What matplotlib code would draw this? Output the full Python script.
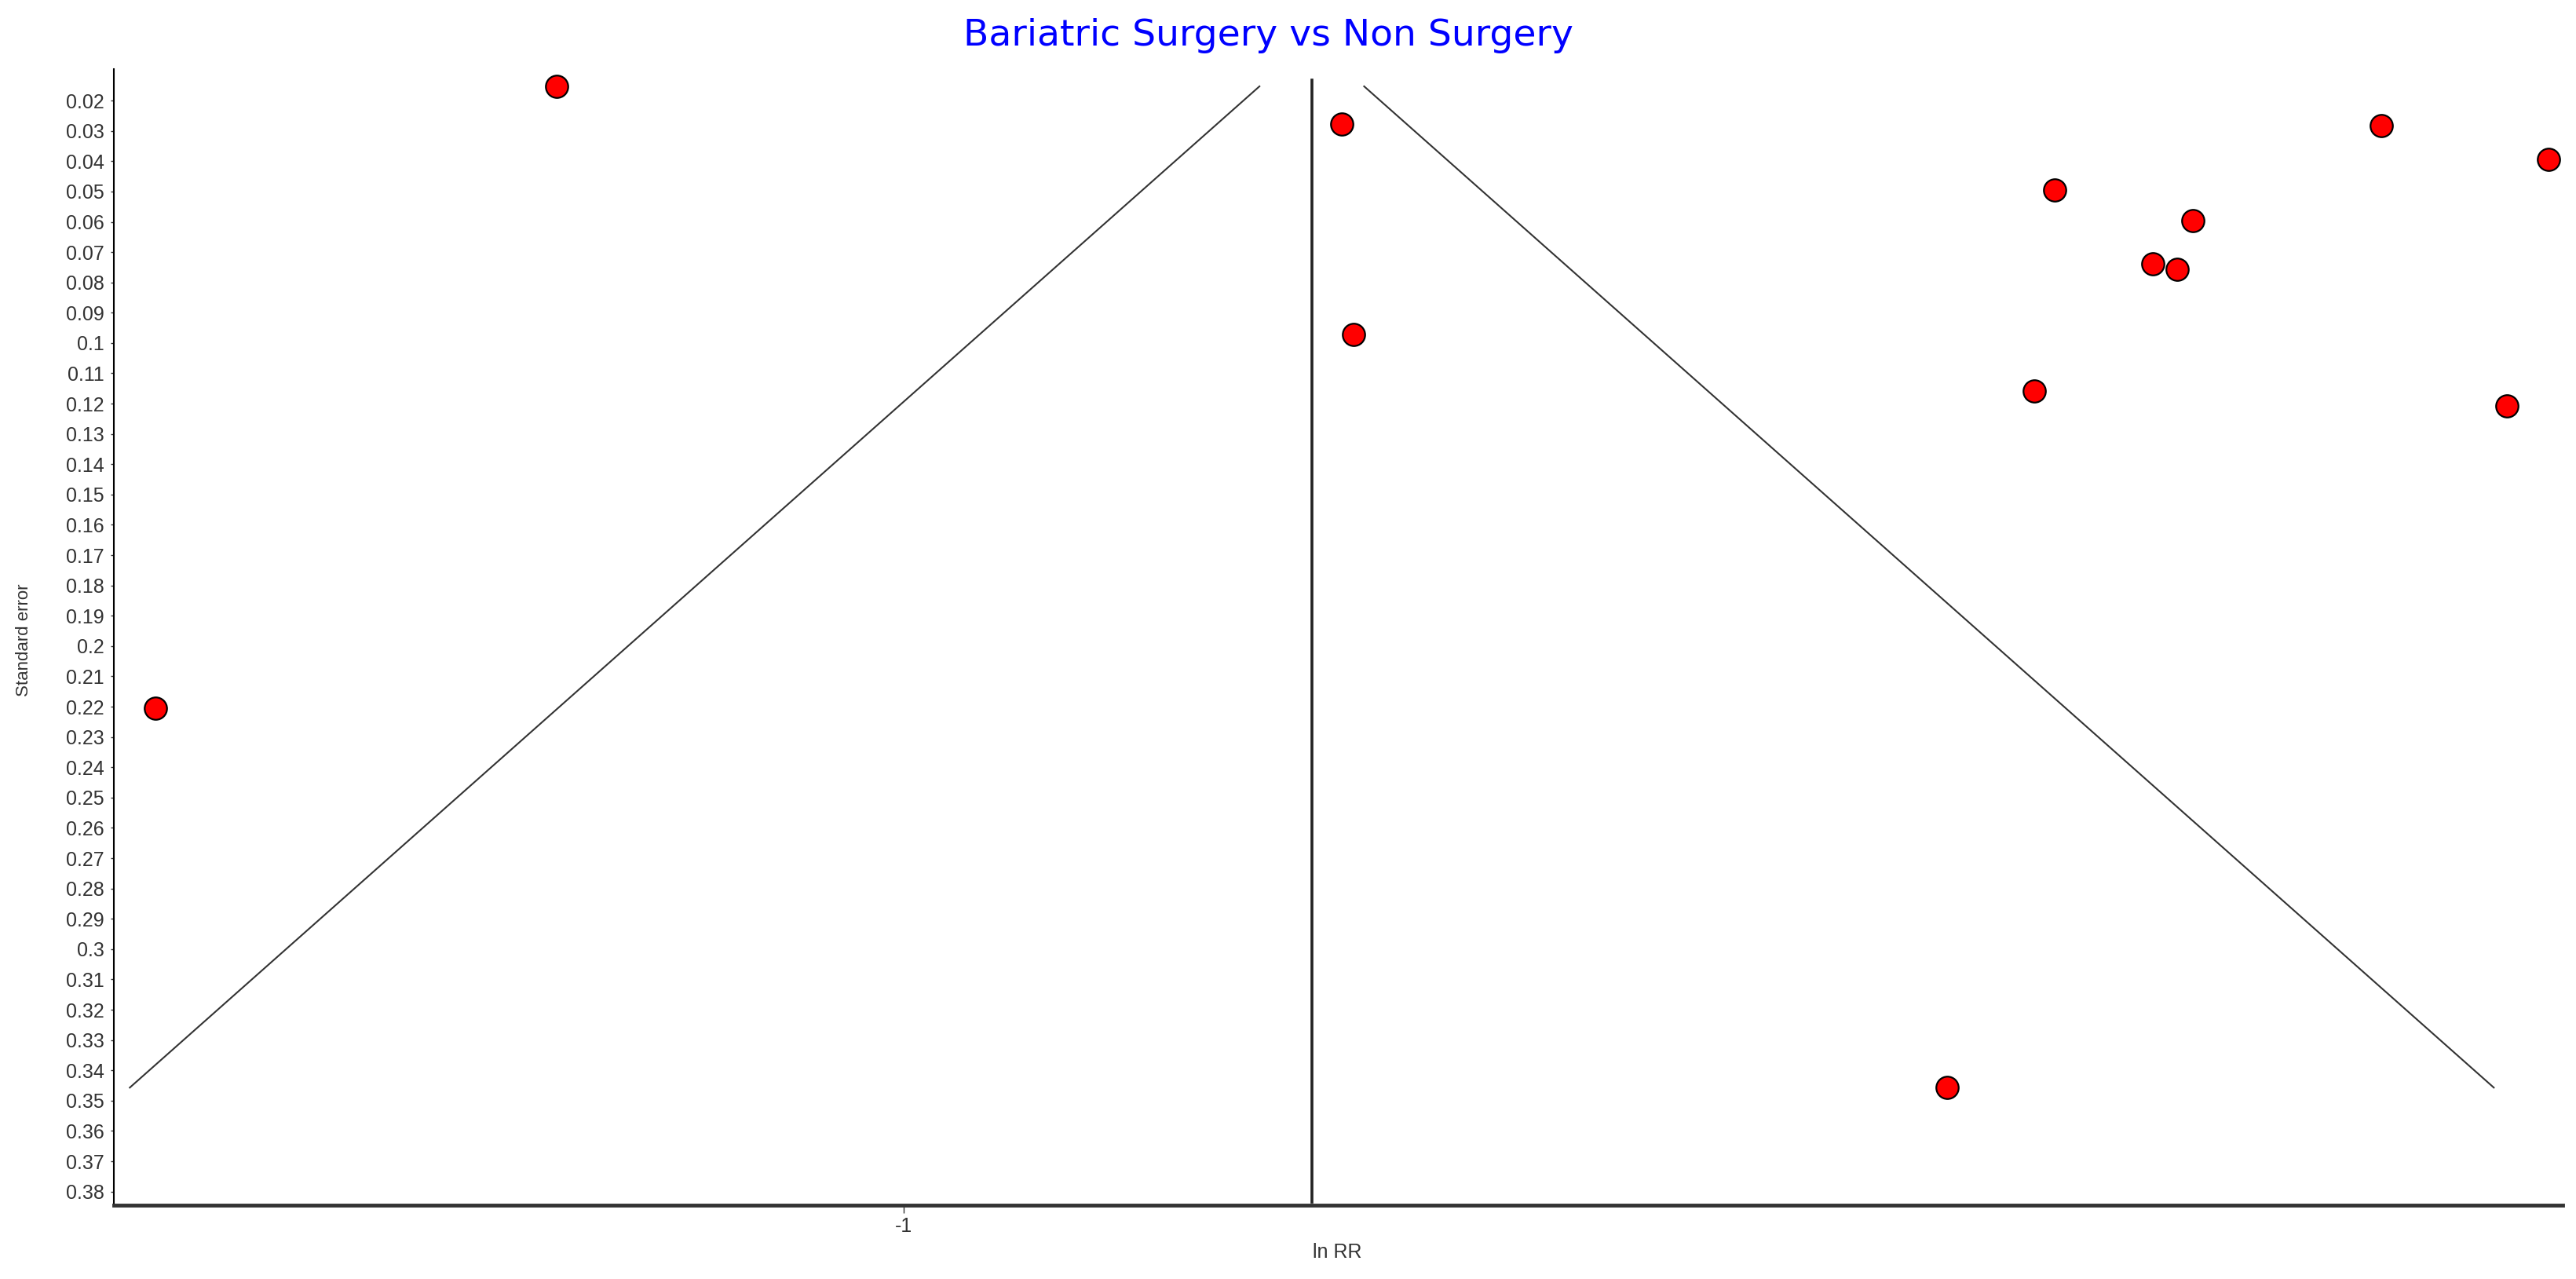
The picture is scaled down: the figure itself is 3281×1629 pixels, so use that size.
import numpy as np
import matplotlib
matplotlib.use("Agg")
import matplotlib.pyplot as plt

# Datos del funnel plot (ln RR, error estandar)
ln_rr = [-1.199, -0.749, -0.153, -0.057, -0.340, -0.261, -0.284,
         -0.270, -0.742, -0.352, -0.081, -1.429, -0.402]
se = [0.0153, 0.0277, 0.0283, 0.0394, 0.0495, 0.0596, 0.0739,
      0.0756, 0.0972, 0.1159, 0.1208, 0.2205, 0.3457]
pooled = -0.766  # estimacion combinada
y_ticks = [round(0.02 + 0.01 * i, 2) for i in range(37)]
x_ticks = [-1]

plt.rcParams['font.family'] = ['Liberation Sans', 'DejaVu Sans']

fig = plt.figure(figsize=(32.81, 16.29), dpi=100)
ax = fig.add_axes([0.0442, 0.0577, 0.9506, 0.8883])

# Embudo: pooled +/- 1.96*SE entre el SE minimo y maximo
se_line = np.array([min(se), max(se)])
ax.plot(pooled - 1.96 * se_line, se_line, color='#333333', lw=1.5)
ax.plot(pooled + 1.96 * se_line, se_line, color='#333333', lw=1.5)
ax.plot([pooled, pooled], [0.0133, 0.3835], color='#222222', lw=2.6)

ax.plot(ln_rr, se, 'o', color='#ff0000', markeredgecolor='black',
        markeredgewidth=1.6, markersize=20.5, linestyle='none')

ax.set_xlim(-1.4527, -0.049)
ax.set_ylim(0.3845, 0.0096)

ax.set_yticks(y_ticks)
ax.set_yticklabels([f"{v:g}" for v in y_ticks])
ax.set_xticks(x_ticks)
ax.set_xticklabels([str(v) for v in x_ticks])
ax.tick_params(axis='y', labelsize=18, labelcolor='#333333', length=3,
               width=1, pad=6, color='#333333')
ax.tick_params(axis='x', labelsize=18, labelcolor='#333333', length=7,
               width=1, pad=4, color='#333333')

for s in ['top', 'right']:
    ax.spines[s].set_visible(False)
ax.spines['bottom'].set_linewidth(3.5)
ax.spines['bottom'].set_color('#333333')
ax.spines['left'].set_linewidth(1.5)
ax.spines['left'].set_linestyle((0, (2, 1)))
ax.spines['left'].set_color('black')

fig.text(0.4925, 0.972, 'Bariatric Surgery vs Non Surgery', color='#0000ff',
         fontsize=34, ha='center', va='center', family='DejaVu Sans')
fig.text(0.0094, 0.4997, 'Standard error', rotation=90, fontsize=16,
         color='#333333', ha='center', va='center')
fig.text(0.519, 0.0209, 'ln RR', fontsize=18, color='#333333',
         ha='center', va='center')

fig.savefig('out.png', dpi=100, facecolor='white')
